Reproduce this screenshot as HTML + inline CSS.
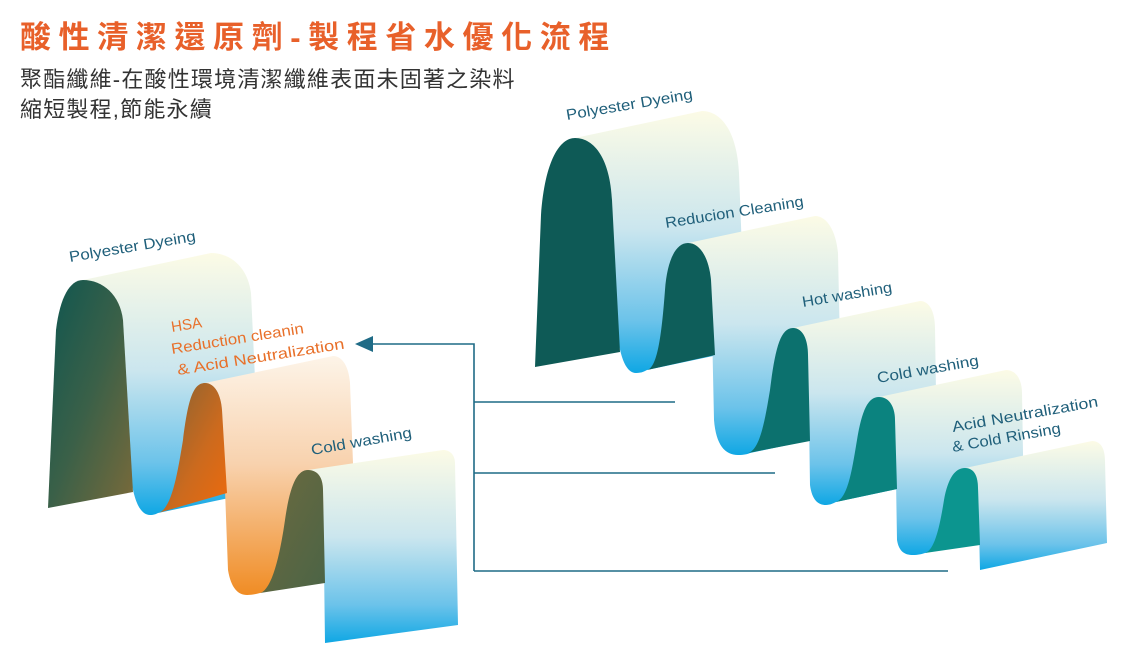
<!DOCTYPE html>
<html><head><meta charset="utf-8"><style>
html,body{margin:0;padding:0;background:#fff;}
body{width:1121px;height:655px;overflow:hidden;position:relative;}
.t{position:absolute;left:20px;top:12px;font:bold 31px "Liberation Sans","Noto Sans CJK TC",sans-serif;color:#e8602a;letter-spacing:7.6px;white-space:nowrap;}
.s{position:absolute;left:20px;font:22px "Liberation Sans","Noto Sans CJK TC",sans-serif;color:#333;white-space:nowrap;letter-spacing:1.2px;}
svg{position:absolute;left:0;top:0;}
</style></head><body>
<div class="t">酸性清潔還原劑-製程省水優化流程</div>
<div class="s" style="top:62px">聚酯纖維-在酸性環境清潔纖維表面未固著之染料</div>
<div class="s" style="top:92px">縮短製程,節能永續</div>
<svg width="1121" height="655" viewBox="0 0 1121 655">
<defs>
<linearGradient id="sb" x1="0" y1="0" x2="0" y2="1">
<stop offset="0" stop-color="#fcfbe6"/><stop offset="0.45" stop-color="#cbe6ee"/><stop offset="0.8" stop-color="#6cc3ea"/><stop offset="1" stop-color="#0fa7e4"/></linearGradient>
<linearGradient id="so" x1="0" y1="0" x2="0" y2="1">
<stop offset="0" stop-color="#fdf4e8"/><stop offset="0.45" stop-color="#f8d2ae"/><stop offset="1" stop-color="#f08c24"/></linearGradient>
<linearGradient id="dl1" x1="0" y1="0" x2="1" y2="1">
<stop offset="0" stop-color="#0e5650"/><stop offset="0.5" stop-color="#3a6048"/><stop offset="1" stop-color="#7a6a3a"/></linearGradient>
<linearGradient id="dl2" x1="0" y1="0" x2="1" y2="1">
<stop offset="0" stop-color="#7d6236"/><stop offset="0.6" stop-color="#cc6a1e"/><stop offset="1" stop-color="#ee6a0c"/></linearGradient>
<linearGradient id="dl3" x1="0" y1="0" x2="1" y2="1">
<stop offset="0" stop-color="#6e6a3e"/><stop offset="1" stop-color="#4b6446"/></linearGradient>
</defs>
<path fill="url(#sb)" d="M83,280 C103,280 120,295 123,320 L130,470 C133,500 140,515 150,515 C154,515 156,514 158,513 L286,486 L278,488 C268,488 261,473 258,443 L251,293 C248,268 231,253 211,253 Z"/>
<path fill="url(#dl1)" d="M48,508 L56,330 C60,297 70,280 83,280 C103,280 120,295 123,320 L133,492 Z"/>
<path fill="url(#so)" d="M205,383 C215,383 221,395 222,410 L228,570 C231,588 238,595 247,595 C252,595 256,594 260,593 L388,566 L375,568 C366,568 359,561 356,543 L350,383 C349,368 343,356 333,356 Z"/>
<path fill="url(#dl2)" d="M158,513 C172,510 178,470 183,440 C188,400 193,383 205,383 C215,383 221,395 222,410 L227,493 Z"/>
<path fill="url(#sb)" d="M308,470 C318,470 323,478 323,490 L325,643 L458,625 L455,463 C455,455 450,450 443,450 Z"/>
<path fill="url(#dl3)" d="M260,593 C272,590 280,555 285,520 C290,485 297,470 308,470 C318,470 323,478 323,490 L325,583 Z"/>
<path fill="url(#sb)" d="M575,138 C595,138 610,160 612,200 L617,330 C620,360 627,373 636,373 C642,373 645,371 647,370 L774,343 L763,346 C754,346 747,333 744,303 L739,173 C737,133 722,111 702,111 Z"/>
<path fill="#0e5a56" d="M535,367 L541,215 C545,160 560,138 575,138 C595,138 610,160 612,200 L620,352 Z"/>
<path fill="url(#sb)" d="M688,243 C700,243 709,258 711,280 L714,420 C716,445 725,455 738,455 C744,455 748,454 750,453 L877,426 L865,428 C852,428 843,418 841,393 L838,253 C836,231 827,216 815,216 Z"/>
<path fill="#0e5e5a" d="M647,370 C658,368 662,330 665,290 C667,262 675,243 688,243 C700,243 709,258 711,280 L715,355 Z"/>
<path fill="url(#sb)" d="M793,328 C803,328 808,340 808,355 L810,485 C812,500 818,505 826,505 C830,505 834,503 836,502 L963,475 L953,478 C945,478 939,473 937,458 L935,328 C935,313 930,301 920,301 Z"/>
<path fill="#0c716e" d="M748,453 C760,450 765,420 770,390 C775,350 780,328 793,328 C803,328 808,340 808,355 L810,441 Z"/>
<path fill="url(#sb)" d="M879,397 C890,397 895,408 895,420 L897,540 C899,552 905,555 913,555 C918,555 922,554 925,553 L1052,526 L1040,528 C1032,528 1026,525 1024,513 L1022,393 C1022,381 1017,370 1006,370 Z"/>
<path fill="#0b837f" d="M836,502 C848,498 852,470 857,440 C862,410 868,397 879,397 C890,397 895,408 895,420 L897,489 Z"/>
<path fill="url(#sb)" d="M965,468 C974,468 978,476 978,488 L980,570 L1107,543 L1105,461 C1105,449 1101,441 1092,441 Z"/>
<path fill="#0c958f" d="M925,553 C935,550 940,525 944,500 C948,478 955,468 965,468 C974,468 978,476 978,488 L980,545 Z"/>
<g stroke="#1f6b86" stroke-width="1.6" fill="none">
<path d="M370,344 H474 V571"/>
<path d="M474,402 H675"/>
<path d="M474,473 H775"/>
<path d="M474,571 H948"/>
</g>
<path fill="#1f6b86" d="M355,344 L373,336 L373,352 Z"/>
<g font-family="Liberation Sans, sans-serif" font-size="15" fill="#1f5f7a">
<text x="70" y="262" transform="rotate(-9.5 70 262)" textLength="128" lengthAdjust="spacingAndGlyphs">Polyester Dyeing</text>
<text x="312" y="455" transform="rotate(-10 312 455)" textLength="102" lengthAdjust="spacingAndGlyphs">Cold washing</text>
<text x="567" y="120" transform="rotate(-9.5 567 120)" textLength="128" lengthAdjust="spacingAndGlyphs">Polyester Dyeing</text>
<text x="666" y="228" transform="rotate(-9 666 228)" textLength="140" lengthAdjust="spacingAndGlyphs">Reducion Cleaning</text>
<text x="803" y="307" transform="rotate(-9.5 803 307)" textLength="91" lengthAdjust="spacingAndGlyphs">Hot washing</text>
<text x="878" y="383" transform="rotate(-10 878 383)" textLength="103" lengthAdjust="spacingAndGlyphs">Cold washing</text>
<text x="953" y="432" transform="rotate(-10 953 432)" textLength="148" lengthAdjust="spacingAndGlyphs">Acid Neutralization</text>
<text x="953" y="452" transform="rotate(-10 953 452)" textLength="110" lengthAdjust="spacingAndGlyphs">&amp; Cold Rinsing</text>
</g>
<g font-family="Liberation Sans, sans-serif" font-size="15" fill="#e8702a">
<text x="172" y="332" transform="rotate(-9 172 332)">HSA</text>
<text x="172" y="354" transform="rotate(-9 172 354)" textLength="134" lengthAdjust="spacingAndGlyphs">Reduction cleanin</text>
<text x="178" y="375" transform="rotate(-9 178 375)" textLength="169" lengthAdjust="spacingAndGlyphs">&amp; Acid Neutralization</text>
</g>
</svg>
</body></html>
